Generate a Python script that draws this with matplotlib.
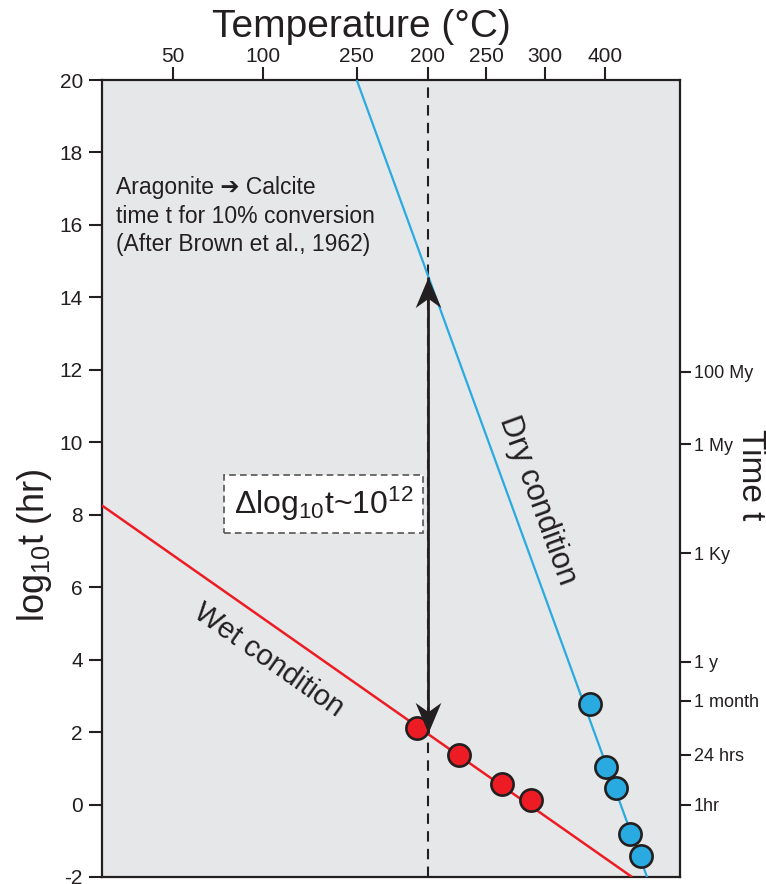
import matplotlib
matplotlib.use("Agg")
import matplotlib.pyplot as plt
from matplotlib.path import Path

plt.rcParams['font.family'] = ['Liberation Sans', 'DejaVu Sans']
plt.rcParams['mathtext.fontset'] = 'custom'
plt.rcParams['mathtext.rm'] = 'Liberation Sans'
plt.rcParams['mathtext.it'] = 'Liberation Sans'
plt.rcParams['mathtext.default'] = 'regular'

# ---- data ----
top_tick_pos = [12.3, 27.9, 44.1, 56.4, 66.5, 76.7, 87.1]
top_tick_labels = ['50', '100', '250', '200', '250', '300', '400']

left_ticks = [-2, 0, 2, 4, 6, 8, 10, 12, 14, 16, 18, 20]

right_tick_pos = [11.94, 9.94, 6.94, 3.94, 2.86, 1.38, 0.0]
right_tick_labels = ['100 My', '1 My', '1 Ky', '1 y', '1 month', '24 hrs', '1hr']

wet_x = [54.5, 61.8, 69.2, 74.2]
wet_y = [2.11, 1.37, 0.57, 0.12]
dry_x = [84.4, 87.2, 89.0, 91.4, 93.3]
dry_y = [2.77, 1.03, 0.46, -0.81, -1.42]

wet_line_x = [0.0, 91.7]
wet_line_y = [8.26, -2.0]
dry_line_x = [44.1, 94.3]
dry_line_y = [20.0, -2.0]

ref_x = 56.4          # 200 °C reference
arrow_y = [1.97, 14.55]

RED = '#ed1c24'
BLUE = '#29abe2'
DARK = '#231f20'
BG = '#e6e7e8'

fig = plt.figure(figsize=(7.66, 8.84), dpi=100)
ax = fig.add_axes([0.13277, 0.00792, 0.75496, 0.90158])
ax.set_facecolor(BG)
ax.set_xlim(0, 100)
ax.set_ylim(-2, 20)

for s in ax.spines.values():
    s.set_linewidth(1.6)
    s.set_color(DARK)

# dashed reference line
ax.plot([ref_x, ref_x], [-2, 20], color=DARK, lw=1.5, ls=(0, (5, 3.5)), zorder=2)

# lines
ax.plot(wet_line_x, wet_line_y, color=RED, lw=1.8, zorder=3, solid_capstyle='butt')
ax.plot(dry_line_x, dry_line_y, color=BLUE, lw=1.6, zorder=3, solid_capstyle='butt')

# points
ax.plot(wet_x, wet_y, 'o', ms=16, mfc=RED, mec=DARK, mew=1.9, zorder=4, clip_on=False)
ax.plot(dry_x, dry_y, 'o', ms=16, mfc=BLUE, mec=DARK, mew=1.9, zorder=4, clip_on=False)

# double arrow with stealth heads
ax.plot([ref_x, ref_x], arrow_y, color=DARK, lw=2.0, zorder=5, solid_capstyle='butt')
up_head = Path([(0, 0), (0.42, -1.0), (0, -0.7), (-0.42, -1.0), (0, 0)],
               [Path.MOVETO, Path.LINETO, Path.LINETO, Path.LINETO, Path.CLOSEPOLY])
down_head = Path([(0, 0), (0.42, 1.0), (0, 0.7), (-0.42, 1.0), (0, 0)],
                 [Path.MOVETO, Path.LINETO, Path.LINETO, Path.LINETO, Path.CLOSEPOLY])
ax.plot([ref_x], [arrow_y[1]], marker=up_head, ms=44, color=DARK, mew=0, zorder=5)
ax.plot([ref_x], [arrow_y[0]], marker=down_head, ms=44, color=DARK, mew=0, zorder=5)

# top axis ticks
ax.xaxis.set_ticks_position('top')
ax.set_xticks(top_tick_pos)
ax.set_xticklabels(top_tick_labels, fontsize=15)
ax.tick_params(axis='x', direction='out', length=9.5, width=1.5, pad=0.5, colors=DARK)

ax.set_yticks(left_ticks)
ax.set_yticklabels([str(v) for v in left_ticks], fontsize=15)
ax.tick_params(axis='y', direction='out', length=9.5, width=1.5, pad=4, colors=DARK)

ax2 = ax.twinx()
ax2.set_ylim(ax.get_ylim())
ax2.set_yticks(right_tick_pos)
ax2.set_yticklabels(right_tick_labels, fontsize=13)
ax2.tick_params(axis='y', direction='out', length=8, width=1.5, pad=2, colors=DARK)
for s in ax2.spines.values():
    s.set_visible(False)

# labels
fig.text(361 / 766, 1 - 27 / 884, 'Temperature (°C)', fontsize=28, ha='center', va='center', color=DARK)
fig.text(35 / 766, 1 - 545 / 884, 'log$_{10}$t (hr)', fontsize=26, rotation=90,
         ha='center', va='center', color=DARK)
fig.text(750 / 766, 1 - 475 / 884, 'Time t', fontsize=24, rotation=-90,
         ha='center', va='center', color=DARK)

# annotation text
ax.text(2.5, 17.35, 'Aragonite \u2794 Calcite\ntime t for 10% conversion\n(After Brown et al., 1962)',
        fontsize=16.5, ha='left', va='top', color=DARK, linespacing=1.31, zorder=6)

ax.text(38.4, 8.30, '\u0394log$_{10}$t~10$^{12}$', fontsize=23, ha='center', va='center',
        color=DARK, zorder=6,
        bbox=dict(boxstyle='square,pad=0.3', facecolor='white', edgecolor='#555555',
                  linestyle=(0, (4, 2.5)), linewidth=1.2))

ax.text(28.8, 3.99, 'Wet condition', fontsize=21, rotation=-35.1, rotation_mode='anchor',
        ha='center', va='center', color=DARK, zorder=6)
ax.text(75.3, 8.41, 'Dry condition', fontsize=22, rotation=-70, rotation_mode='anchor',
        ha='center', va='center', color=DARK, zorder=6)

fig.savefig('out.png', dpi=100)
